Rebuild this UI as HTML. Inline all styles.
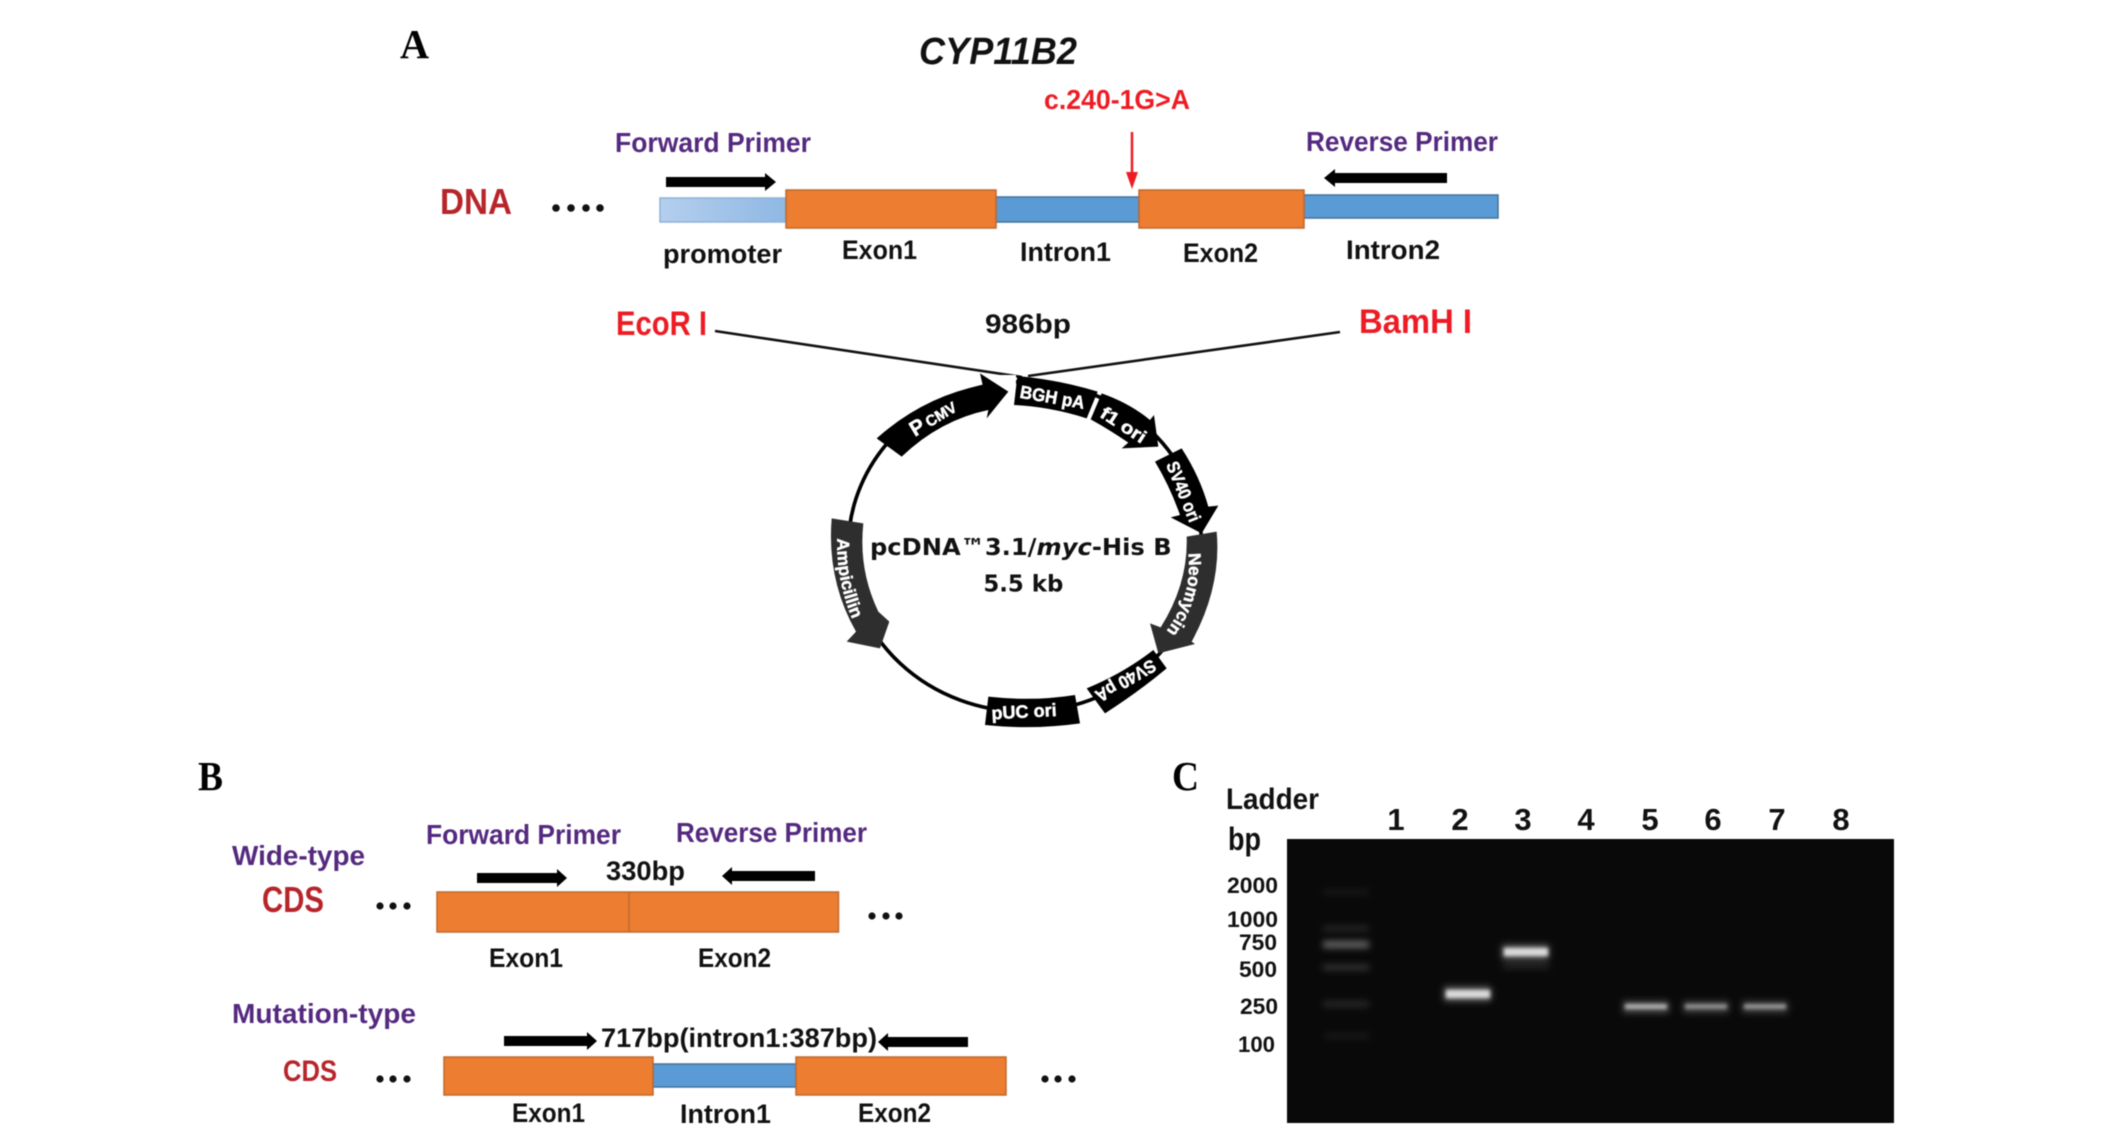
<!DOCTYPE html>
<html>
<head>
<meta charset="utf-8">
<style>
html,body{margin:0;padding:0;background:#fff;width:2126px;height:1135px;overflow:hidden}
svg{display:block;filter:blur(0.4px)}
text{font-family:"Liberation Sans",sans-serif;font-weight:bold;fill:#111}
.s{font-family:"Liberation Serif",serif;font-size:41px;fill:#000}
.p{fill:#54297f;font-size:28px}
.r{fill:#ed1c24;font-size:34px}
.d{fill:#b7252b;font-size:36px}
.l{font-size:27px}
.n{font-size:31px;text-anchor:middle}
.b{font-size:22px}
.o{fill:#ed7d31;stroke:#bd6a2e;stroke-width:1.5}
.i{fill:#5b9bd5;stroke:#41719c;stroke-width:1.5}
.w{fill:#fff;font-size:54px;stroke:#fff;stroke-width:1.5}
.c{font-family:"DejaVu Sans",sans-serif;font-size:70px;fill:#111}
</style>
</head>
<body>
<svg width="2126" height="1135" viewBox="0 0 2126 1135" xmlns="http://www.w3.org/2000/svg">
<defs>
<linearGradient id="lb" x1="0" x2="1" y1="0" y2="0"><stop offset="0" stop-color="#b4cfee"/><stop offset="1" stop-color="#8fb8e4"/></linearGradient>
<filter id="f1" x="-30%" y="-100%" width="160%" height="300%"><feGaussianBlur stdDeviation="1.8"/></filter>
<filter id="f2" x="-30%" y="-150%" width="160%" height="400%"><feGaussianBlur stdDeviation="3.5"/></filter>
<path id="neo" d="M1165,640 Q1180,780 1085,890"/>
<path id="amp" d="M112,595 Q108,730 165,855"/>
</defs>

<!-- Panel A -->
<text class="s" x="400" y="58" textLength="29" lengthAdjust="spacingAndGlyphs">A</text>
<text x="919" y="64" font-size="38" font-style="italic" textLength="158" lengthAdjust="spacingAndGlyphs">CYP11B2</text>
<text x="1044" y="109" font-size="28" style="fill:#ed1c24" textLength="146" lengthAdjust="spacingAndGlyphs">c.240-1G&gt;A</text>
<text class="p" x="615" y="152" textLength="196" lengthAdjust="spacingAndGlyphs">Forward Primer</text>
<text class="p" x="1306" y="151" textLength="192" lengthAdjust="spacingAndGlyphs">Reverse Primer</text>
<polygon points="666,177 765,177 765,173 776,182 765,191 765,187 666,187" fill="#000"/>
<polygon points="1447,173 1335,173 1335,169 1324,178 1335,187 1335,183 1447,183" fill="#000"/>
<line x1="1132" y1="132" x2="1132" y2="175" stroke="#ed1c24" stroke-width="2.5"/>
<polygon points="1126,172 1138,172 1132,189" fill="#ed1c24"/>
<text class="d" x="440" y="214" textLength="72" lengthAdjust="spacingAndGlyphs">DNA</text>
<g fill="#111"><circle cx="556" cy="208" r="3.8"/><circle cx="571" cy="208" r="3.8"/><circle cx="586" cy="208" r="3.8"/><circle cx="600" cy="208" r="3.8"/></g>
<rect x="660" y="198" width="126" height="24" fill="url(#lb)" stroke="#8fb1d8" stroke-width="1.5"/>
<rect class="i" x="996" y="197" width="143" height="25"/>
<rect class="i" x="1304" y="195" width="194" height="23"/>
<rect class="o" x="786" y="190" width="210" height="38"/>
<rect class="o" x="1139" y="190" width="165" height="38"/>
<text class="l" x="663" y="263" textLength="119" lengthAdjust="spacingAndGlyphs">promoter</text>
<text class="l" x="842" y="259" textLength="75" lengthAdjust="spacingAndGlyphs">Exon1</text>
<text class="l" x="1020" y="261" textLength="91" lengthAdjust="spacingAndGlyphs">Intron1</text>
<text class="l" x="1183" y="262" textLength="75" lengthAdjust="spacingAndGlyphs">Exon2</text>
<text class="l" x="1346" y="259" textLength="94" lengthAdjust="spacingAndGlyphs">Intron2</text>
<text class="r" x="616" y="335" textLength="91" lengthAdjust="spacingAndGlyphs">EcoR I</text>
<text class="r" x="1359" y="333" textLength="113" lengthAdjust="spacingAndGlyphs">BamH I</text>
<text class="l" x="985" y="333" textLength="86" lengthAdjust="spacingAndGlyphs">986bp</text>
<line x1="715" y1="331" x2="1022" y2="377" stroke="#111" stroke-width="2.6"/>
<line x1="1340" y1="332" x2="1028" y2="376" stroke="#111" stroke-width="2.6"/>

<!-- Plasmid -->
<g transform="translate(800 340) scale(0.33333)">
<ellipse cx="675" cy="620" rx="530" ry="495" fill="none" stroke="#000" stroke-width="11"/>
<rect x="570" y="105" width="78" height="50" fill="#fff"/>
<path d="M230,295 Q370,170 548,135 L540,100 L625,155 L560,235 L565,210 Q420,240 305,350 Z" fill="#000"/>
<path d="M652,108 Q780,120 893,155 L860,235 Q750,200 642,195 Z" fill="#000"/>
<path d="M905,160 Q990,190 1050,240 L1062,225 L1075,320 L965,325 L985,308 Q930,270 872,238 Z" fill="#000"/>
<path d="M1065,365 L1145,325 Q1200,410 1225,500 L1255,497 L1205,580 L1112,532 L1140,525 Q1110,440 1065,365 Z" fill="#000"/>
<path d="M1160,590 L1250,575 Q1265,740 1175,905 L1185,912 L1075,940 L1050,850 L1082,862 Q1165,730 1160,590 Z" fill="#2e2e2e"/>
<path d="M860,1045 Q970,1000 1060,930 L1100,985 Q1010,1060 915,1120 Z" fill="#000"/>
<path d="M565,1070 Q700,1085 825,1065 L840,1150 Q700,1170 555,1155 Z" fill="#000"/>
<path d="M95,535 L190,550 Q175,690 235,815 L268,845 L240,925 L140,905 L168,875 Q80,720 95,535 Z" fill="#2e2e2e"/>
<g transform="translate(395 235) rotate(-31)"><text class="w" x="-72" y="22" style="font-size:64px" textLength="42" lengthAdjust="spacingAndGlyphs">P</text><text class="w" x="-20" y="20" style="font-size:46px" textLength="100" lengthAdjust="spacingAndGlyphs">CMV</text></g>
<text class="w" transform="translate(757 172) rotate(10)" x="-98" y="18" textLength="196" lengthAdjust="spacingAndGlyphs">BGH pA</text>
<text class="w" transform="translate(970 255) rotate(33)" x="-76" y="18" textLength="152" lengthAdjust="spacingAndGlyphs">f1 ori</text>
<text class="w" transform="translate(1150 455) rotate(68)" x="-95" y="18" textLength="190" lengthAdjust="spacingAndGlyphs">SV40 ori</text>
<text class="w" style="font-size:52px"><textPath href="#neo">Neomycin</textPath></text>
<text class="w" transform="translate(977 1022) rotate(150)" x="-100" y="18" textLength="200" lengthAdjust="spacingAndGlyphs">SV40 pA</text>
<text class="w" transform="translate(672 1115) rotate(-3)" x="-98" y="18" textLength="196" lengthAdjust="spacingAndGlyphs">pUC ori</text>
<text class="w" style="font-size:52px"><textPath href="#amp">Ampicillin</textPath></text>
<text class="c" x="210" y="645" textLength="905" lengthAdjust="spacingAndGlyphs">pcDNA™3.1/<tspan font-style="italic">myc</tspan>-His B</text>
<text class="c" x="550" y="755" textLength="240" lengthAdjust="spacingAndGlyphs">5.5 kb</text>
</g>

<!-- Panel B -->
<text class="s" x="198" y="790" textLength="25" lengthAdjust="spacingAndGlyphs">B</text>
<text class="p" x="426" y="844" textLength="195" lengthAdjust="spacingAndGlyphs">Forward Primer</text>
<text class="p" x="676" y="842" textLength="191" lengthAdjust="spacingAndGlyphs">Reverse Primer</text>
<text class="p" x="232" y="865" textLength="133" lengthAdjust="spacingAndGlyphs">Wide-type</text>
<text class="d" x="262" y="912" textLength="62" lengthAdjust="spacingAndGlyphs">CDS</text>
<g fill="#111"><circle cx="380" cy="906" r="3.6"/><circle cx="393" cy="906" r="3.6"/><circle cx="407" cy="906" r="3.6"/></g>
<polygon points="477,873 557,873 557,869 567,878 557,887 557,883 477,883" fill="#000"/>
<polygon points="815,871 732,871 732,867 722,876 732,885 732,881 815,881" fill="#000"/>
<text class="l" x="606" y="880" textLength="79" lengthAdjust="spacingAndGlyphs">330bp</text>
<rect class="o" x="437" y="892" width="401.500" height="40"/>
<line x1="629" y1="892" x2="629" y2="932" stroke="#bd6a2e" stroke-width="1.5"/>
<g fill="#111"><circle cx="872" cy="916" r="3.6"/><circle cx="886" cy="916" r="3.6"/><circle cx="899" cy="916" r="3.6"/></g>
<text class="l" x="489" y="967" textLength="74" lengthAdjust="spacingAndGlyphs">Exon1</text>
<text class="l" x="698" y="967" textLength="73" lengthAdjust="spacingAndGlyphs">Exon2</text>
<text class="p" x="232" y="1023" textLength="184" lengthAdjust="spacingAndGlyphs">Mutation-type</text>
<polygon points="504,1036 587,1036 587,1032 597,1041 587,1050 587,1046 504,1046" fill="#000"/>
<text class="l" x="601" y="1047" textLength="276" lengthAdjust="spacingAndGlyphs">717bp(intron1:387bp)</text>
<polygon points="968,1037 888,1037 888,1033 878,1042 888,1051 888,1047 968,1047" fill="#000"/>
<text class="d" style="font-size:30px" x="283" y="1081" textLength="54" lengthAdjust="spacingAndGlyphs">CDS</text>
<g fill="#111"><circle cx="380" cy="1079" r="3.6"/><circle cx="393" cy="1079" r="3.6"/><circle cx="407" cy="1079" r="3.6"/></g>
<rect class="i" x="653" y="1064" width="143" height="23"/>
<rect class="o" x="444" y="1057" width="209" height="38"/>
<rect class="o" x="796" y="1057" width="210" height="38"/>
<g fill="#111"><circle cx="1045" cy="1079" r="3.6"/><circle cx="1058" cy="1079" r="3.6"/><circle cx="1072" cy="1079" r="3.6"/></g>
<text class="l" x="512" y="1122" textLength="73" lengthAdjust="spacingAndGlyphs">Exon1</text>
<text class="l" x="680" y="1123" textLength="91" lengthAdjust="spacingAndGlyphs">Intron1</text>
<text class="l" x="858" y="1122" textLength="73" lengthAdjust="spacingAndGlyphs">Exon2</text>

<!-- Panel C -->
<text class="s" x="1172" y="790" textLength="27" lengthAdjust="spacingAndGlyphs">C</text>
<text class="l" style="font-size:30px" x="1226" y="809" textLength="93" lengthAdjust="spacingAndGlyphs">Ladder</text>
<text class="l" style="font-size:32px" x="1228" y="850" textLength="33" lengthAdjust="spacingAndGlyphs">bp</text>
<text class="n" x="1396" y="830">1</text>
<text class="n" x="1460" y="830">2</text>
<text class="n" x="1523" y="830">3</text>
<text class="n" x="1586" y="830">4</text>
<text class="n" x="1650" y="830">5</text>
<text class="n" x="1713" y="830">6</text>
<text class="n" x="1777" y="830">7</text>
<text class="n" x="1841" y="830">8</text>
<rect x="1287" y="839" width="607" height="284" fill="#090909"/>
<g fill="#fff">
<g filter="url(#f2)">
<rect x="1323" y="890" width="46" height="4" opacity=".08"/>
<rect x="1323" y="926" width="46" height="5" opacity=".13"/>
<rect x="1323" y="941" width="46" height="7" opacity=".38"/>
<rect x="1323" y="965" width="46" height="5" opacity=".2"/>
<rect x="1323" y="1001" width="46" height="6" opacity=".13"/>
<rect x="1325" y="1033" width="44" height="6" opacity=".06"/>
<rect x="1503" y="963" width="46" height="5" opacity=".14"/>
<rect x="1444" y="987" width="47" height="14" opacity=".4"/>
<rect x="1502" y="945" width="47" height="14" opacity=".4"/>
<rect x="1623" y="1001" width="46" height="12" opacity=".28"/>
<rect x="1683" y="1001" width="46" height="12" opacity=".22"/>
<rect x="1742" y="1001" width="46" height="12" opacity=".22"/>
</g>
<g filter="url(#f1)">
<rect x="1446" y="990" width="44" height="8" opacity=".75"/>
<rect x="1504" y="948" width="44" height="8" opacity=".75"/>
<rect x="1625" y="1004" width="42" height="5" opacity=".55"/>
<rect x="1685" y="1004" width="42" height="5" opacity=".42"/>
<rect x="1744" y="1004" width="42" height="5" opacity=".45"/>
</g>
</g>
<text class="b" x="1227" y="893" textLength="51" lengthAdjust="spacingAndGlyphs">2000</text>
<text class="b" x="1227" y="927" textLength="51" lengthAdjust="spacingAndGlyphs">1000</text>
<text class="b" x="1239" y="950" textLength="38" lengthAdjust="spacingAndGlyphs">750</text>
<text class="b" x="1239" y="977" textLength="38" lengthAdjust="spacingAndGlyphs">500</text>
<text class="b" x="1240" y="1014" textLength="38" lengthAdjust="spacingAndGlyphs">250</text>
<text class="b" x="1238" y="1052" textLength="37" lengthAdjust="spacingAndGlyphs">100</text>
</svg>
</body>
</html>
